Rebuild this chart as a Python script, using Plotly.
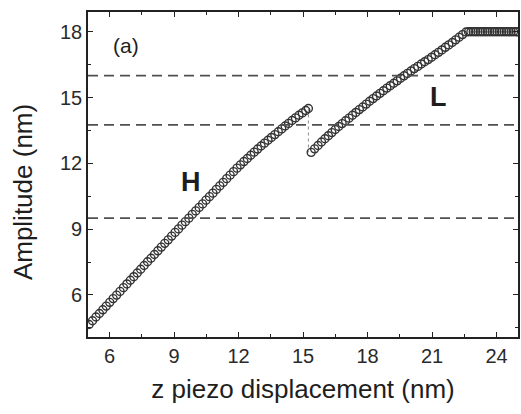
import plotly.graph_objects as go

# ---- data ----
h_x = [5.05, 5.21, 5.37, 5.53, 5.69, 5.85, 6.01, 6.17, 6.33, 6.49, 6.65, 6.81, 6.97, 7.13,
       7.29, 7.45, 7.61, 7.77, 7.93, 8.09, 8.25, 8.41, 8.57, 8.73, 8.89, 9.05, 9.21, 9.37,
       9.53, 9.69, 9.85, 10.01, 10.17, 10.33, 10.49, 10.65, 10.81, 10.97, 11.13, 11.29,
       11.45, 11.61, 11.77, 11.93, 12.09, 12.25, 12.41, 12.57, 12.73, 12.89, 13.05, 13.21,
       13.37, 13.53, 13.69, 13.85, 14.01, 14.17, 14.33, 14.49, 14.65, 14.81, 14.97, 15.13,
       15.25]
h_y = [4.65, 4.82, 4.99, 5.15, 5.32, 5.49, 5.66, 5.83, 5.99, 6.16, 6.33, 6.50, 6.67, 6.83,
       7.00, 7.17, 7.34, 7.51, 7.67, 7.84, 8.01, 8.18, 8.35, 8.51, 8.68, 8.85, 9.01, 9.18,
       9.34, 9.50, 9.67, 9.83, 9.99, 10.15, 10.32, 10.48, 10.64, 10.81, 10.97, 11.13,
       11.30, 11.46, 11.62, 11.78, 11.93, 12.08, 12.22, 12.37, 12.51, 12.65, 12.79, 12.92,
       13.05, 13.18, 13.31, 13.44, 13.57, 13.70, 13.82, 13.95, 14.07, 14.19, 14.30, 14.41,
       14.50]

l_x = [15.38, 15.54, 15.70, 15.86, 16.02, 16.18, 16.34, 16.50, 16.66, 16.82, 16.98, 17.14,
       17.30, 17.46, 17.62, 17.78, 17.94, 18.10, 18.26, 18.42, 18.58, 18.74, 18.90, 19.06,
       19.22, 19.38, 19.54, 19.70, 19.86, 20.02, 20.18, 20.34, 20.50, 20.66, 20.82, 20.98,
       21.14, 21.30, 21.46, 21.62, 21.78, 21.94, 22.10, 22.26, 22.42, 22.58,
       22.70, 22.81, 22.92, 23.03, 23.14, 23.25, 23.36, 23.47, 23.58, 23.69, 23.80, 23.91,
       24.02, 24.13, 24.24, 24.35, 24.46, 24.57, 24.68, 24.79, 24.90, 25.00]
l_y = [12.50, 12.66, 12.81, 12.97, 13.12, 13.26, 13.40, 13.54, 13.68, 13.81, 13.94, 14.06,
       14.19, 14.32, 14.45, 14.57, 14.70, 14.83, 14.95, 15.07, 15.19, 15.31, 15.43, 15.54,
       15.65, 15.76, 15.88, 15.99, 16.10, 16.21, 16.32, 16.42, 16.53, 16.63, 16.73, 16.84,
       16.95, 17.06, 17.17, 17.29, 17.40, 17.51, 17.63, 17.75, 17.87, 17.99,
       18.00, 18.00, 18.00, 18.00, 18.00, 18.00, 18.00, 18.00, 18.00, 18.00, 18.00, 18.00,
       18.00, 18.00, 18.00, 18.00, 18.00, 18.00, 18.00, 18.00, 18.00, 18.00]

jump_x = [15.25, 15.25]
jump_y = [14.50, 12.50]

hlines_y = [16.0, 13.75, 9.5]

x_ticks = [6, 9, 12, 15, 18, 21, 24]
y_ticks = [6, 9, 12, 15, 18]

labels_text = ["(a)", "H", "L"]
labels_x = [6.75, 9.77, 21.32]
labels_y = [17.35, 11.15, 15.02]

# ---- figure ----
FONT = "Liberation Sans, Arial, sans-serif"
TXT = "#1e1e1e"
fig = go.Figure()

fig.add_trace(go.Scatter(x=jump_x, y=jump_y, mode="lines",
                         line=dict(color="#8a8a8a", width=1, dash="dot"),
                         showlegend=False, hoverinfo="skip"))

marker = dict(symbol="circle-open", size=8, color="#333333", line=dict(width=1.4, color="#333333"))
fig.add_trace(go.Scatter(x=h_x, y=h_y, mode="markers", marker=marker, showlegend=False))
fig.add_trace(go.Scatter(x=l_x, y=l_y, mode="markers", marker=marker, showlegend=False))

for yv in hlines_y:
    fig.add_shape(type="line", xref="paper", yref="y", x0=0, x1=1, y0=yv, y1=yv,
                  line=dict(color="#505050", width=1.8, dash="10px,6px"))

for t, xv, yv in zip(labels_text, labels_x, labels_y):
    bold = t != "(a)"
    fig.add_annotation(x=xv, y=yv, xref="x", yref="y", text=f"<b>{t}</b>" if bold else t,
                       showarrow=False,
                       font=dict(family=FONT, size=27 if bold else 21, color=TXT))

fig.add_annotation(x=-0.151, y=0.446, xref="paper", yref="paper", text="Amplitude (nm)",
                   textangle=-90, showarrow=False, xanchor="center", yanchor="middle",
                   font=dict(family=FONT, size=26, color=TXT))

axis_common = dict(showline=True, linecolor="#222222", linewidth=1.6, mirror="allticks",
                   ticks="inside", ticklen=5, tickwidth=1.2, tickcolor="#222222",
                   showgrid=False, zeroline=False, automargin=False,
                   tickfont=dict(family=FONT, size=20, color="#2a2a2a"))

fig.update_xaxes(range=[5, 25], tickvals=x_ticks, ticktext=[str(v) for v in x_ticks],
                 minor=dict(ticks="inside", ticklen=3, tickwidth=1, tickcolor="#222222",
                            tickvals=[v + 1.5 for v in x_ticks] + [x_ticks[0] - 1.5]),
                 title=dict(text="z piezo displacement (nm)", standoff=14,
                            font=dict(family=FONT, size=26, color=TXT)),
                 **axis_common)
fig.update_yaxes(range=[4.08, 18.9], tickvals=y_ticks, ticktext=[str(v) for v in y_ticks],
                 minor=dict(ticks="inside", ticklen=3, tickwidth=1, tickcolor="#222222",
                            tickvals=[v + 1.5 for v in y_ticks] + [y_ticks[0] - 1.5]),
                 **axis_common)

fig.update_layout(width=521, height=414, margin=dict(l=88, r=3, t=12, b=77),
                  plot_bgcolor="white", paper_bgcolor="white")

fig.write_html("out.html", config={"displayModeBar": False},
               post_script="document.body.style.margin='0';document.body.style.padding='0';")
